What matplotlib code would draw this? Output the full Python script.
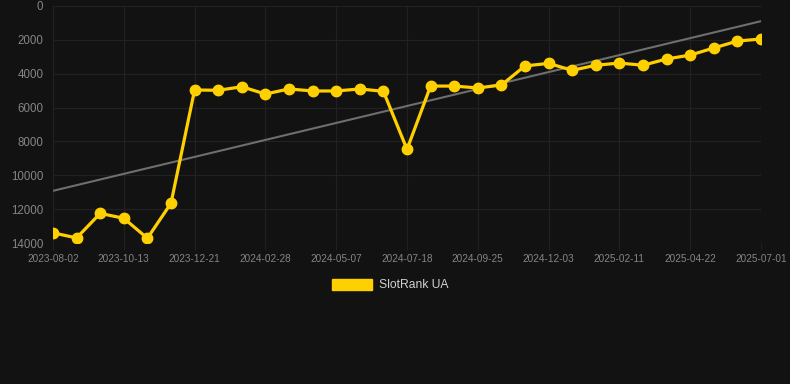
import matplotlib
matplotlib.use("Agg")
import matplotlib.pyplot as plt
from matplotlib.patches import Patch
import numpy as np

tick_labels = ["2023-08-02", "2023-10-13", "2023-12-21", "2024-02-28", "2024-05-07",
               "2024-07-18", "2024-09-25", "2024-12-03", "2025-02-11", "2025-04-22", "2025-07-01"]
ranks = [13400, 13700, 12250, 12540, 13720, 11650, 4960, 4980, 4770, 5200,
         4900, 5020, 5020, 4900, 5040, 8470, 4730, 4730, 4840, 4670,
         3540, 3390, 3800, 3500, 3370, 3500, 3130, 2900, 2480, 2070, 1950]
series_name = "SlotRank UA"

bg = "#121212"
gold = "#FFD000"
grid_c = "#212121"
plt.rcParams['font.family'] = ['Liberation Sans', 'DejaVu Sans']

fig = plt.figure(figsize=(7.9, 3.84), dpi=100, facecolor=bg)
ax = fig.add_axes([53/790, 1-243/384, (761-53)/790, (243-6)/384], facecolor=bg)

x = np.arange(len(ranks))
coef = np.polyfit(x, ranks, 1)
ax.plot(x, np.polyval(coef, x), color="#6e6e6e", lw=1.5, zorder=2)
ax.plot(x, ranks, color=gold, lw=2.3, marker="o", ms=7.5, zorder=3)

ax.set_xlim(0, len(ranks)-1)
ax.set_ylim(14000, 0)
ax.set_yticks(np.arange(0, 14001, 2000))
ax.set_xticks(x[::3])
ax.set_xticklabels(tick_labels)
ax.tick_params(axis='y', labelsize=8.3, colors="#858585", length=0, pad=7)
ax.tick_params(axis='x', labelsize=7.2, colors="#858585", length=5, color=grid_c, width=0.8, pad=3)
ax.grid(True, color=grid_c, lw=0.9)
for s in ax.spines.values():
    s.set_visible(False)

leg = fig.legend(handles=[Patch(facecolor=gold, edgecolor=gold)], labels=[series_name],
                 loc="center", bbox_to_anchor=(390/790, 1-285/384), frameon=False,
                 handlelength=3.3, handleheight=1.1, handletextpad=0.6, fontsize=8.7,
                 labelcolor="#d0d0d0")

fig.savefig("out.png", dpi=100, facecolor=bg)
